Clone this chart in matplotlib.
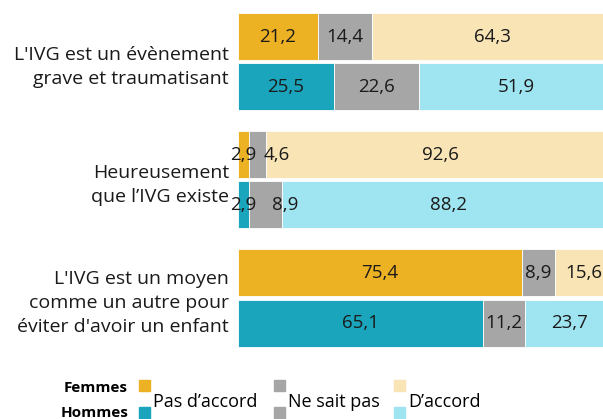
import matplotlib
matplotlib.use("Agg")
import matplotlib.pyplot as plt
from matplotlib.patches import Rectangle

plt.rcParams['font.family'] = ['Open Sans', 'DejaVu Sans']

questions = ["L'IVG est un évènement\ngrave et traumatisant",
             "Heureusement\nque l’IVG existe",
             "L'IVG est un moyen\ncomme un autre pour\néviter d'avoir un enfant"]
categories = ["Pas d’accord", "Ne sait pas", "D’accord"]
femmes = [[21.2, 14.4, 64.3], [2.9, 4.6, 92.6], [75.4, 8.9, 15.6]]
hommes = [[25.5, 22.6, 51.9], [2.9, 8.9, 88.2], [65.1, 11.2, 23.7]]

col_f = ["#EDB223", "#A6A6A6", "#F8E4B5"]
col_h = ["#1AA5BC", "#A6A6A6", "#9FE4F1"]

# labels pushed right so they don't sit on top of the tiny 2,9 segment
nudge = {(1, 1): 5.2}

W, H = 603, 419
fig = plt.figure(figsize=(W / 100, H / 100), dpi=100)
# 100 % = ~376 px, bars run past the right edge like the original
ax = fig.add_axes([238 / W, 1 - 360 / H, 376 / W, 360 / H])

centers = [0.0, 1.18, 2.36]
off, bh = 0.25, 0.47

for i, c in enumerate(centers):
    for vals, cols, y in ((femmes[i], col_f, c - off), (hommes[i], col_h, c + off)):
        left = 0
        for j, (v, col) in enumerate(zip(vals, cols)):
            ax.barh(y, v, left=left, height=bh, color=col, edgecolor="white", linewidth=0.6)
            ax.text(left + v / 2 + nudge.get((i, j), 0), y, f"{v:.1f}".replace(".", ","),
                    ha="center", va="center", fontsize=13.5, color="#1a1a1a")
            left += v

ax.set_xlim(0, 100)
ax.set_ylim(2.98, -0.62)
ax.set_yticks(centers)
ax.set_yticklabels(questions, fontsize=14, linespacing=1.45, color="#1a1a1a")
ax.tick_params(axis="y", length=0, pad=6.5)
ax.set_xticks([])
for s in ax.spines.values():
    s.set_visible(False)

# legend
fig.text(128 / W, 1 - 388 / H, "Femmes", ha="right", va="center", fontsize=11, fontweight="bold")
fig.text(128 / W, 1 - 413 / H, "Hommes", ha="right", va="center", fontsize=11, fontweight="bold")
for x0, cf, ch, lab in zip([139, 274, 394], col_f, col_h, categories):
    fig.patches.append(Rectangle((x0 / W, 1 - 391 / H), 10.5 / W, 11 / H, color=cf,
                                 transform=fig.transFigure))
    fig.patches.append(Rectangle((x0 / W, 1 - 419 / H), 10.5 / W, 12 / H, color=ch,
                                 transform=fig.transFigure))
    fig.text((x0 + 14) / W, 1 - 402 / H, lab, ha="left", va="center", fontsize=13)

fig.savefig("out.png", dpi=100)
